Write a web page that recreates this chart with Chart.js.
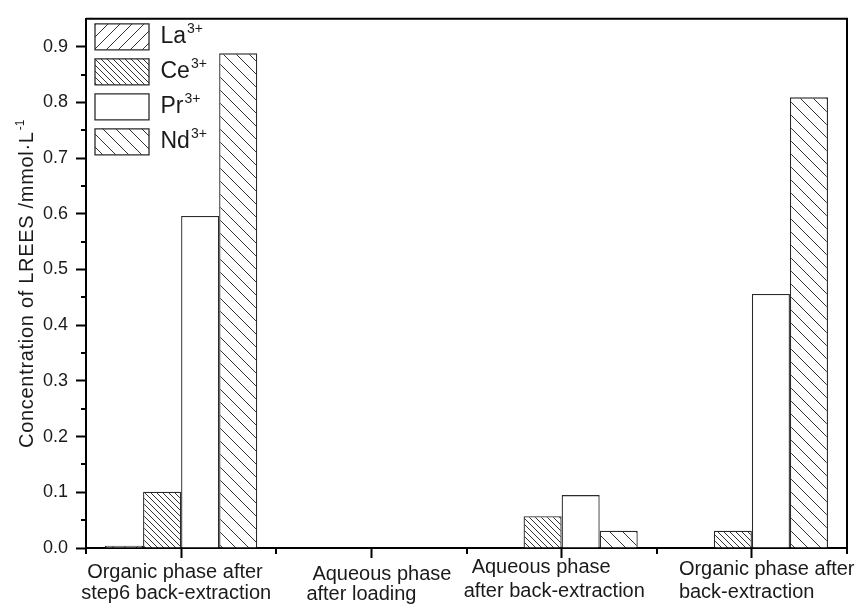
<!DOCTYPE html>
<html><head><meta charset="utf-8">
<script src="https://cdn.jsdelivr.net/npm/chart.js@4"></script>
<style>html,body{margin:0;padding:0;background:#fff;}</style>
</head><body>
<canvas id="c" width="857" height="604"></canvas>
<script>
// ---- data ----
const categories = [
  ['Organic phase after', 'step6 back-extraction'],
  ['Aqueous phase', 'after loading'],
  ['Aqueous phase', 'after back-extraction'],
  ['Organic phase after', 'back-extraction']
];
const seriesNames = ['La', 'Ce', 'Pr', 'Nd'];
const ionCharge = '3+';
const laValues = [0.004, 0, 0, 0];
const ceValues = [0.101, 0, 0.057, 0.031];
const prValues = [0.596, 0, 0.095, 0.456];
const ndValues = [0.888, 0, 0.031, 0.809];
const yMin = 0, yMax = 0.95, yStep = 0.1, yLastLabel = 0.9;
const yMinorTicks = [0.05, 0.15, 0.25, 0.35, 0.45, 0.55, 0.65, 0.75, 0.85];
const yTitleMain = 'Concentration of LREES /mmol\u00B7L';
const yTitleSup = '-1';

// ---- styles ----
const FONT = "'Liberation Sans', Arial, sans-serif";
const TEXT = '#1a1a1a';
const EDGE = '#2a2a2a';

function hatch(spacing, dir, lw) {
  const c = document.createElement('canvas');
  c.width = spacing; c.height = spacing;
  const g = c.getContext('2d');
  g.fillStyle = '#fff'; g.fillRect(0, 0, spacing, spacing);
  g.strokeStyle = '#333'; g.lineWidth = lw;
  g.beginPath();
  for (let k = -1; k <= 1; k++) {
    if (dir === 'back') { g.moveTo(k * spacing, 0); g.lineTo(k * spacing + spacing, spacing); }
    else { g.moveTo(k * spacing, spacing); g.lineTo(k * spacing + spacing, 0); }
  }
  g.stroke();
  return g.createPattern(c, 'repeat');
}

const fills = [hatch(12, 'fwd', 1), hatch(6, 'back', 1), '#ffffff', hatch(13, 'back', 1)];
const seriesValues = [laValues, ceValues, prValues, ndValues];

const xLabelLayout = [
  {dx: [-94, -100], dy: [30, 51]},
  {dx: [-59, -65], dy: [32, 52]},
  {dx: [-90, -98], dy: [25, 49]},
  {dx: [-73, -73], dy: [27, 50]}
];

const decor = {
  id: 'decor',
  afterLayout(chart) {
    const lg = chart.legend, a = chart.chartArea;
    if (lg) {
      const h = lg.height, w = lg.width;
      lg.top = a.top - 4; lg.bottom = lg.top + h;
      lg.left = a.left; lg.right = lg.left + w;
    }
  },
  afterDraw(chart) {
    const ctx = chart.ctx;
    const a = chart.chartArea;
    const xs = chart.scales.x, ys = chart.scales.y;
    ctx.save();
    // frame top & right
    ctx.strokeStyle = '#000'; ctx.lineWidth = 2;
    ctx.beginPath();
    ctx.moveTo(a.left, a.top); ctx.lineTo(a.right, a.top); ctx.lineTo(a.right, a.bottom);
    ctx.stroke();
    // y minor ticks
    ctx.beginPath();
    yMinorTicks.forEach(v => {
      const y = Math.round(ys.getPixelForValue(v));
      ctx.moveTo(a.left, y); ctx.lineTo(a.left - 5, y);
    });
    // x minor ticks at category boundaries
    for (let i = 0; i <= categories.length; i++) {
      const x = Math.round((xs.getPixelForValue(i - 0.5)));
      ctx.moveTo(x, a.bottom); ctx.lineTo(x, a.bottom + 6);
    }
    ctx.stroke();
    // x labels
    ctx.fillStyle = TEXT;
    ctx.font = '20px ' + FONT;
    ctx.textAlign = 'left'; ctx.textBaseline = 'alphabetic';
    categories.forEach((lines, i) => {
      const cx = xs.getPixelForValue(i);
      lines.forEach((t, j) => {
        ctx.fillText(t, cx + xLabelLayout[i].dx[j], a.bottom + xLabelLayout[i].dy[j]);
      });
    });
    // y title
    ctx.save();
    ctx.translate(33, 448);
    ctx.rotate(-Math.PI / 2);
    ctx.font = '20px ' + FONT;
    try { ctx.letterSpacing = '0.7px'; } catch (e) {}
    ctx.fillText(yTitleMain, 0, 0);
    const w = ctx.measureText(yTitleMain).width;
    ctx.font = '12px ' + FONT;
    try { ctx.letterSpacing = '0px'; } catch (e) {}
    ctx.fillText(yTitleSup, w + 1, -9);
    ctx.restore();
    // legend superscripts
    const lg = chart.legend;
    if (lg && lg.legendHitBoxes) {
      const lo = lg.options.labels;
      const fs = lo.font.size;
      lg.legendHitBoxes.forEach((hb, i) => {
        ctx.font = fs + 'px ' + FONT;
        const tw = ctx.measureText(seriesNames[i]).width;
        const tx = hb.left + lo.boxWidth + fs / 2 + tw + 1;
        const cy = hb.top + hb.height / 2;
        ctx.font = '14px ' + FONT;
        ctx.textBaseline = 'alphabetic';
        ctx.fillText(ionCharge, tx, cy - 4);
      });
    }
    ctx.restore();
  }
};

new Chart(document.getElementById('c'), {
  type: 'bar',
  data: {
    labels: categories.map(c => c.join(' ')),
    datasets: seriesNames.map((n, i) => ({
      label: n,
      data: seriesValues[i],
      backgroundColor: fills[i],
      borderColor: EDGE,
      borderWidth: 1.3
    }))
  },
  options: {
    responsive: false,
    animation: false,
    devicePixelRatio: 1,
    layout: {padding: {top: 16, right: 10, left: 0, bottom: 0}},
    datasets: {bar: {categoryPercentage: 0.8, barPercentage: 1.0}},
    plugins: {
      legend: {
        position: 'chartArea', align: 'start',
        labels: {boxWidth: 54, boxHeight: 26, padding: 9, color: TEXT,
                 font: {family: FONT, size: 23}}
      },
      tooltip: {enabled: false}
    },
    scales: {
      x: {
        grid: {display: true, drawOnChartArea: false, offset: false, drawTicks: true,
               tickLength: 10, tickWidth: 2, tickColor: '#000'},
        border: {display: true, color: '#000', width: 2},
        ticks: {display: false},
        afterFit(s) { s.height = 56; }
      },
      y: {
        min: yMin, max: yMax,
        ticks: {stepSize: yStep, color: TEXT, padding: 8, font: {family: FONT, size: 18},
                callback: v => v.toFixed(1)},
        afterBuildTicks(s) { s.ticks = s.ticks.filter(t => t.value <= yLastLabel + 1e-9); },
        grid: {drawOnChartArea: false, tickLength: 10, tickWidth: 2, tickColor: '#000'},
        border: {display: true, color: '#000', width: 2},
        afterFit(s) { s.width = 86; }
      }
    }
  },
  plugins: [decor]
});
</script>
</body></html>
